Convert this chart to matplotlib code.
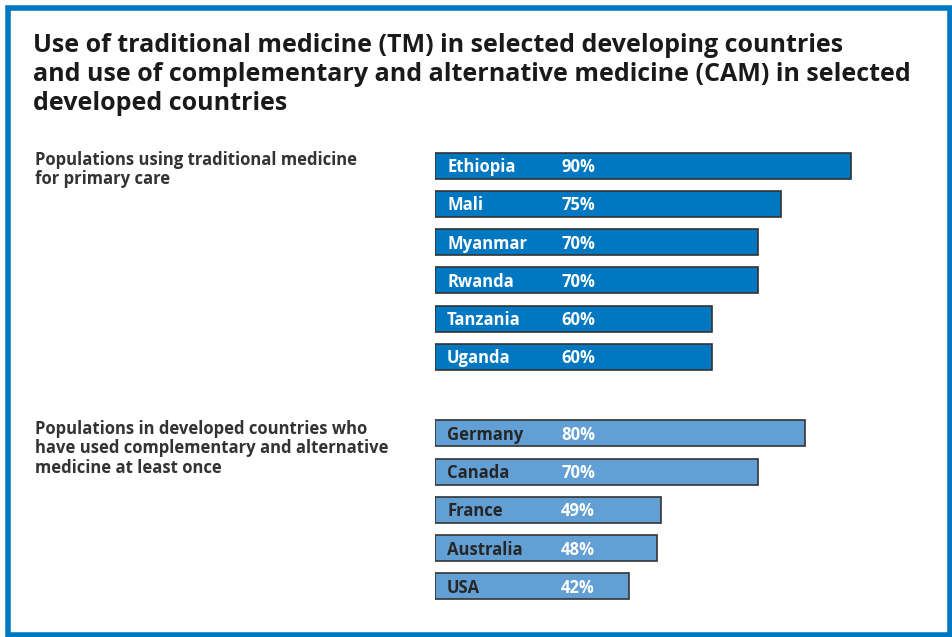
import matplotlib.pyplot as plt
from matplotlib.patches import Rectangle

# data
tm_countries = ["Ethiopia", "Mali", "Myanmar", "Rwanda", "Tanzania", "Uganda"]
tm_values = [90, 75, 70, 70, 60, 60]
cam_countries = ["Germany", "Canada", "France", "Australia", "USA"]
cam_values = [80, 70, 49, 48, 42]

title = ("Use of traditional medicine (TM) in selected developing countries\n"
         "and use of complementary and alternative medicine (CAM) in selected\n"
         "developed countries")
tm_label = "Populations using traditional medicine\nfor primary care"
cam_label = ("Populations in developed countries who\n"
             "have used complementary and alternative\n"
             "medicine at least once")

dark_blue = "#0078C1"
light_blue = "#629FD4"
text_dark = "#262626"

plt.rcParams['font.family'] = ['Open Sans', 'DejaVu Sans']

W, H = 953, 637
fig = plt.figure(figsize=(W / 100, H / 100), dpi=100)

# blue frame
fig.patches.append(Rectangle((8 / W, 2 / H), 942 / W, 627 / H, transform=fig.transFigure,
                             fill=False, edgecolor=dark_blue, linewidth=4))

# axes placed so that 1% = 4.62 px, rows spaced ~38.3 px
ax = fig.add_axes([435 / W, 1 - 605.6 / H, 462 / W, (605.6 - 146.4) / H])
ax.set_xlim(0, 100)
ax.set_ylim(11.5, -0.5)
ax.axis("off")

tm_pos = list(range(len(tm_countries)))
cam_pos = [7 + i for i in range(len(cam_countries))]

ax.barh(tm_pos, tm_values, height=0.68, color=dark_blue, edgecolor="#333333", linewidth=1.2)
ax.barh(cam_pos, cam_values, height=0.68, color=light_blue, edgecolor="#333333", linewidth=1.2)

for y, name, v in zip(tm_pos, tm_countries, tm_values):
    ax.text(2.6, y + 0.04, name, color="white", fontsize=12, fontweight="bold", va="center")
    ax.text(27.3, y + 0.04, f"{v}%", color="white", fontsize=12, fontweight="bold", va="center")
for y, name, v in zip(cam_pos, cam_countries, cam_values):
    ax.text(2.6, y + 0.04, name, color=text_dark, fontsize=12, fontweight="bold", va="center")
    ax.text(27.3, y + 0.04, f"{v}%", color="white", fontsize=12, fontweight="bold", va="center")

fig.text(33 / W, 1 - 33 / H, title, fontsize=18, fontweight="bold", color="#1a1a1a",
         va="top", ha="left", linespacing=1.22)
fig.text(35 / W, 1 - 151 / H, tm_label, fontsize=12, fontweight="bold", color="#333333",
         va="top", ha="left", linespacing=1.1)
fig.text(35 / W, 1 - 420 / H, cam_label, fontsize=12, fontweight="bold", color="#333333",
         va="top", ha="left", linespacing=1.1)

fig.savefig("out.png", dpi=100)
